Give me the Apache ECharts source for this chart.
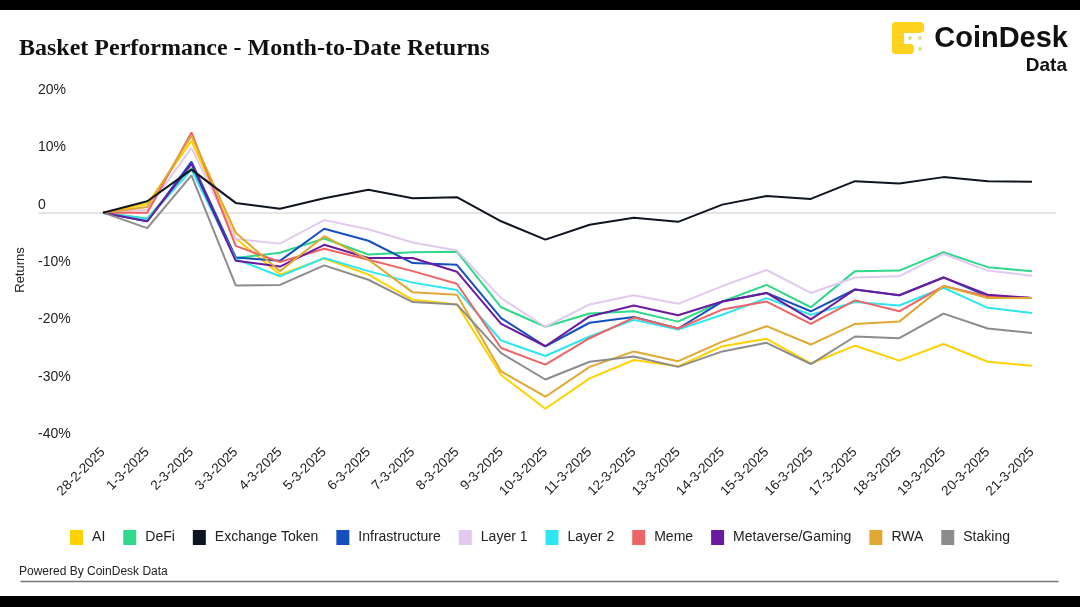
<!DOCTYPE html>
<html>
<head>
<meta charset="utf-8">
<script src="https://cdn.jsdelivr.net/npm/echarts@6/dist/echarts.min.js"></script>
<style>
html,body{margin:0;padding:0;background:#fff;}
#chart{width:1080px;height:607px;}
</style>
</head>
<body>
<div id="chart"></div>
<script>
const categories = ['28-2-2025','1-3-2025','2-3-2025','3-3-2025','4-3-2025','5-3-2025','6-3-2025','7-3-2025','8-3-2025','9-3-2025','10-3-2025','11-3-2025','12-3-2025','13-3-2025','14-3-2025','15-3-2025','16-3-2025','17-3-2025','18-3-2025','19-3-2025','20-3-2025','21-3-2025'];

const seriesNames = ['AI','DeFi','Exchange Token','Infrastructure','Layer 1','Layer 2','Meme','Metaverse/Gaming','RWA','Staking'];
const seriesColors = ['#FFD100','#2FD88A','#0E1520','#1450C0','#E3C9EF','#2EE6F2','#EE6464','#6A1AA0','#E0A830','#8C8C8C'];

const aiValues = [0, 1.5, 12.5, -4.5, -10.8, -8.0, -10.8, -15.2, -16.0, -28.3, -34.2, -28.9, -25.7, -26.8, -23.3, -22.0, -26.3, -23.2, -25.8, -22.9, -26.0, -26.7];
const defiValues = [0, -1.0, 7.8, -7.9, -7.0, -4.5, -7.3, -6.9, -6.8, -16.5, -19.9, -17.6, -17.2, -19.0, -15.5, -12.6, -16.5, -10.2, -10.1, -6.9, -9.5, -10.2];
const exchangeValues = [0, 2.0, 7.5, 1.7, 0.7, 2.5, 4.0, 2.5, 2.7, -1.5, -4.7, -2.1, -0.9, -1.6, 1.4, 2.9, 2.4, 5.5, 5.1, 6.2, 5.5, 5.4];
const infraValues = [0, -1.5, 8.9, -7.8, -8.4, -2.8, -4.9, -8.8, -9.1, -18.4, -23.3, -19.2, -18.2, -20.2, -15.5, -14.0, -17.2, -13.4, -14.4, -11.3, -14.6, -14.9];
const layer1Values = [0, 0.5, 11.3, -4.6, -5.4, -1.3, -2.9, -5.2, -6.6, -14.9, -19.9, -16.0, -14.4, -15.9, -12.8, -10.0, -14.0, -11.3, -11.1, -7.2, -10.1, -11.0];
const layer2Values = [0, -1.2, 7.5, -8.1, -11.1, -7.9, -10.2, -12.2, -13.5, -22.3, -25.0, -21.6, -18.7, -20.4, -17.8, -14.9, -17.8, -15.6, -16.2, -13.1, -16.6, -17.5];
const memeValues = [0, 0, 14.0, -5.8, -8.6, -6.3, -8.2, -10.2, -12.4, -23.6, -26.5, -21.9, -18.3, -20.2, -16.9, -15.5, -19.4, -15.3, -17.2, -12.8, -14.6, -14.9];
const metaverseValues = [0, -1.5, 8.5, -8.4, -9.4, -5.6, -7.9, -7.9, -10.3, -19.4, -23.3, -18.1, -16.2, -17.9, -15.5, -14.0, -18.6, -13.4, -14.4, -11.3, -14.3, -14.9];
const rwaValues = [0, 1.0, 13.4, -3.5, -10.2, -4.1, -8.2, -13.9, -14.3, -27.7, -32.1, -26.9, -24.2, -25.9, -22.5, -19.8, -23.0, -19.4, -19.0, -12.8, -14.9, -14.9];
const stakingValues = [0, -2.7, 6.5, -12.7, -12.6, -9.2, -11.7, -15.6, -16.0, -24.5, -29.1, -26.0, -25.1, -26.9, -24.2, -22.7, -26.4, -21.6, -21.9, -17.6, -20.2, -21.0];

const yTicks = [-40, -30, -20, -10, 0, 10, 20];
const yMin = -40, yMax = 20, yStep = 10;

const allValues = [aiValues, defiValues, exchangeValues, infraValues, layer1Values, layer2Values, memeValues, metaverseValues, rwaValues, stakingValues];

const chart = echarts.init(document.getElementById('chart'), null, {renderer: 'canvas'});

const splitColors = yTicks.map(v => v === 0 ? '#dcdcdc' : 'rgba(0,0,0,0)');

const series = seriesNames.map((name, i) => ({
  name: name,
  type: 'line',
  xAxisIndex: 0,
  yAxisIndex: 0,
  data: allValues[i],
  showSymbol: false,
  symbol: 'none',
  lineStyle: {width: 2, color: seriesColors[i]},
  itemStyle: {color: seriesColors[i]},
  z: name === 'Exchange Token' ? 3 : 2,
  animation: false
}));

const option = {
  backgroundColor: '#ffffff',
  animation: false,
  title: {
    text: 'Basket Performance - Month-to-Date Returns',
    left: 19,
    top: 37,
    padding: 0,
    textStyle: {fontFamily: 'Liberation Serif', fontWeight: 'bold', fontSize: 24, color: '#111111'}
  },
  legend: {
    data: seriesNames,
    bottom: 57,
    left: 'center',
    icon: 'rect',
    itemWidth: 13,
    itemHeight: 15,
    itemGap: 18,
    textStyle: {fontFamily: 'Liberation Sans', fontSize: 14, color: '#222222', padding: [0, 0, 0, 4]}
  },
  grid: [
    {left: 103, right: 48, top: 98, bottom: 165},
    {left: 38, right: 24, top: 98, bottom: 165}
  ],
  xAxis: [
    {
      type: 'category',
      gridIndex: 0,
      data: categories,
      boundaryGap: false,
      axisLine: {show: false},
      axisTick: {show: false},
      axisLabel: {rotate: 45, margin: 8, fontFamily: 'Liberation Sans', fontSize: 13.5, color: '#222222', interval: 0}
    },
    {
      type: 'value',
      gridIndex: 1,
      min: 0, max: 1,
      show: false
    }
  ],
  yAxis: [
    {
      type: 'value',
      gridIndex: 0,
      min: yMin, max: yMax, interval: yStep,
      axisLabel: {show: false},
      axisLine: {show: false},
      axisTick: {show: false},
      splitLine: {show: false}
    },
    {
      type: 'value',
      gridIndex: 1,
      min: yMin, max: yMax, interval: yStep,
      name: 'Returns',
      nameLocation: 'middle',
      nameGap: 7,
      nameTextStyle: {fontFamily: 'Liberation Sans', fontSize: 13, color: '#222222'},
      axisLine: {show: false},
      axisTick: {show: false},
      axisLabel: {
        inside: true,
        margin: 0,
        verticalAlign: 'bottom',
        padding: [0, 0, 1, 0],
        fontFamily: 'Liberation Sans',
        fontSize: 14,
        color: '#222222',
        formatter: v => v === 0 ? '0' : v + '%'
      },
      splitLine: {show: true, lineStyle: {color: splitColors, width: 1.5}}
    }
  ],
  graphic: [
    {type: 'rect', left: 0, top: 0, shape: {width: 1080, height: 10}, style: {fill: '#000000'}, z: 100},
    {type: 'rect', left: 0, top: 596, shape: {width: 1080, height: 11}, style: {fill: '#000000'}, z: 100},
    {type: 'group', left: 892, top: 22, z: 100, children: [
      {type: 'rect', shape: {x: 0, y: 0, width: 32, height: 11, r: 4}, style: {fill: '#FFD21F'}},
      {type: 'rect', shape: {x: 0, y: 0, width: 12, height: 32, r: 4}, style: {fill: '#FFD21F'}},
      {type: 'rect', shape: {x: 0, y: 22, width: 22, height: 10, r: 4}, style: {fill: '#FFD21F'}},
      {type: 'circle', shape: {cx: 18, cy: 16, r: 2}, style: {fill: '#D6E58A'}},
      {type: 'circle', shape: {cx: 28, cy: 16, r: 2}, style: {fill: '#D6E58A'}},
      {type: 'circle', shape: {cx: 28, cy: 27, r: 2}, style: {fill: '#D6E58A'}}
    ]},
    {type: 'text', right: 12, top: 24, z: 100, style: {text: 'CoinDesk', fontFamily: 'Liberation Sans', fontWeight: 'bold', fontSize: 29, fill: '#111111'}},
    {type: 'text', right: 13, top: 56, z: 100, style: {text: 'Data', fontFamily: 'Liberation Sans', fontWeight: 'bold', fontSize: 19, fill: '#111111'}},
    {type: 'text', left: 19, top: 566, z: 100, style: {text: 'Powered By CoinDesk Data', fontFamily: 'Liberation Sans', fontSize: 12, fill: '#222222'}},
    {type: 'line', left: 18, top: 579, z: 100, shape: {x1: 0, y1: 0, x2: 1038, y2: 0}, style: {stroke: '#777777', lineWidth: 1.5}}
  ],
  series: series
};

chart.setOption(option);
</script>
</body>
</html>
